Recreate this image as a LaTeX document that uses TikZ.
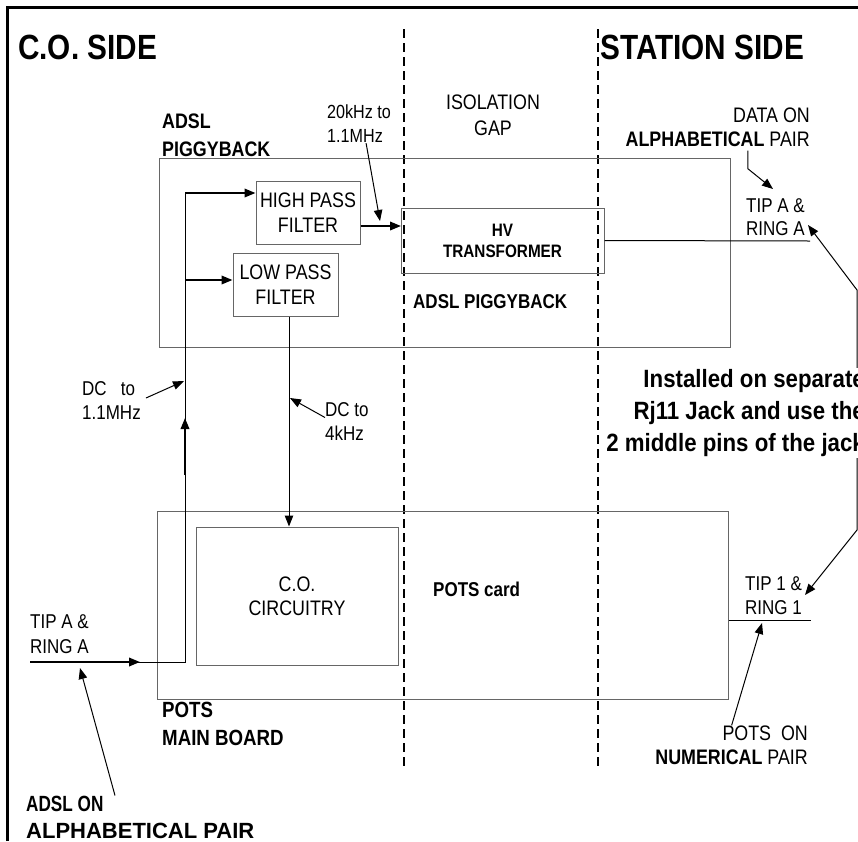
\documentclass[tikz,border=0pt]{standalone}
\usepackage{fontspec}
\usepackage{graphicx}
\setmainfont{Liberation Sans}[FakeStretch=0.85]
\newfontfamily\jackfont{Liberation Sans}[FakeStretch=0.89]
\newfontfamily\widefont{Liberation Sans}
\usetikzlibrary{arrows.meta,positioning}
\newcommand{\fs}[2]{\fontsize{#1}{#2}\selectfont}

\begin{document}
\begin{tikzpicture}[x=1pt,y=-1pt,>={Triangle[length=11pt,width=8.5pt]},
  box/.style={draw=black!60,line width=1pt,inner sep=0pt},
  lbl/.style={font=\fs{20}{24},inner sep=0pt,align=left},
  blbl/.style={font=\fs{21}{28}\bfseries,inner sep=0pt,align=left},
  wire/.style={line width=1pt},
  sig/.style={line width=2pt,->},
  note/.style={line width=1pt,->}]
  \useasboundingbox (0,0) rectangle (858,841);
  \clip (0,0) rectangle (858,841);
  \draw[line width=3pt] (7,841) -- (7,7) -- (858,7);
  \foreach \x in {404,598}
    \draw[line width=2pt,dash pattern=on 9pt off 5pt] (\x,29) -- (\x,770);

  \node[font=\fs{35}{40}\bfseries,inner sep=0pt,anchor=west] (coside) at (18,47.5) {C.O. SIDE};
  \node[font=\fs{35}{40}\bfseries,inner sep=0pt,anchor=west] (stside) at (600,47.5) {STATION SIDE};

  \node[box,minimum width=571pt,minimum height=189pt] (piggy) at (444.5,252.5) {};
  \node[box,minimum width=571pt,minimum height=188pt] (pots) at (442.5,605) {};
  \node[box,lbl,align=center,font=\fs{21}{25},minimum width=104pt,minimum height=63pt] (hpf) at (308,212.5) {HIGH PASS\\FILTER};
  \node[box,lbl,align=center,font=\fs{21}{25},minimum width=105pt,minimum height=63pt] (lpf) at (285.5,284.5) {LOW PASS\\FILTER};
  \node[box,lbl,align=center,font=\fs{18}{21}\bfseries,minimum width=203pt,minimum height=65pt] (hvt) at (502.5,240.5) {HV\\TRANSFORMER};
  \node[box,lbl,align=center,font=\fs{21}{24},minimum width=202pt,minimum height=138pt] (coc) at (297,596) {C.O.\\CIRCUITRY};

  \node[blbl,anchor=west] (pbk) at (162,135) {ADSL\\PIGGYBACK};
  \node[blbl,anchor=west,font=\fs{20}{24}\bfseries] (pbk2) at (413,302) {ADSL PIGGYBACK};
  \node[lbl,align=center,font=\fs{21}{26}] (gap) at (493,115) {ISOLATION\\GAP};
  \node[lbl,anchor=west,font=\fs{19}{24}] (f20) at (327,124) {20kHz to\\1.1MHz};
  \node[lbl,align=right,anchor=east,font=\fs{21}{24}] (dataA) at (810,127) {DATA ON\\\textbf{ALPHABETICAL} PAIR};
  \node[lbl,anchor=west,font=\fs{20}{23}] (tipA) at (746,217.5) {TIP A \&\\RING A};
  \node[lbl,anchor=west] (dc11) at (82,401) {DC\ \ \ to\\1.1MHz};
  \node[lbl,anchor=west] (dc4) at (325,421.5) {DC to\\4kHz};
  \node[blbl,anchor=west,font=\fs{20}{24}\bfseries] (card) at (433,589) {POTS card};
  \node[lbl,anchor=west,font=\fs{20}{25}] (tipAin) at (30,634.5) {TIP A \&\\RING A};
  \node[blbl,anchor=west,font=\fs{22}{28}\bfseries] (main) at (162,724) {POTS\\MAIN BOARD};
  \node[blbl,anchor=west,font=\widefont\fs{22}{27}\bfseries] (adslon) at (26,817) {\scalebox{0.78}[1]{ADSL ON}\\ALPHABETICAL PAIR};
  \node[lbl,anchor=west,font=\fs{20}{24}] (tip1) at (745,596) {TIP 1 \&\\RING 1};
  \node[lbl,align=right,anchor=east,font=\fs{21}{24}] (potson) at (808,745) {POTS\ \ ON\\\textbf{NUMERICAL} PAIR};

  \coordinate (inA) at (30,662);
  \coordinate (bend) at (185,662);
  \coordinate (tapH) at (185,193);
  \coordinate (tapL) at (185,280);
  \coordinate (upA) at (185,475);
  \coordinate (upB) at (185,418);
  \coordinate (hvtin) at (401,226);
  \coordinate (outA) at (810,241);
  \coordinate (out1) at (811,620);
  \coordinate (jackA) at (808,225);
  \coordinate (jack1) at (805,595);
  \draw[wire] (inA) -- (bend) -- (tapH);
  \draw[sig] (inA) -- ++(110,0);
  \draw[sig] (upA) -- (upB);
  \draw[sig] (tapH) -- (tapH -| hpf.west);
  \draw[sig] (tapL) -- (tapL -| lpf.west);
  \draw[sig] (hpf.east |- hvtin) -- (hvtin);
  \draw[wire,->] ([xshift=3.5pt]lpf.south) -- ([xshift=3.5pt]lpf.south |- coc.north);
  \draw[wire] (hvt.east) -- (outA);
  \draw[wire] (pots.east |- out1) -- (out1);
  \draw[wire,<->] (jackA) -- (857,290) -- (857,530) -- (jack1);

  \coordinate (k20) at (380,221);
  \coordinate (kdA) at (773,189);
  \coordinate (k11) at (184,381);
  \coordinate (k4) at (290,398);
  \coordinate (kin) at (80,668);
  \coordinate (k1) at (762,623);
  \draw[note] ([xshift=7pt]f20.south) -- (k20);
  \draw[note] ([xshift=30pt]dataA.south) ++(0,4) -- ++(0,18) -- (kdA);
  \draw[note] ([xshift=5pt,yshift=3pt]dc11.east) -- (k11);
  \draw[note] ([yshift=4pt]dc4.west) -- (k4);
  \draw[note] ([xshift=89pt]adslon.north west) -- (kin);
  \draw[note] (potson.north) -- (k1);

  \node[lbl,align=right,anchor=east,fill=white,font=\jackfont\fs{25}{32}\bfseries,inner sep=1pt] (jack) at (866,413) {Installed on separate\\Rj11 Jack and use the\\2 middle pins of the jack};
\end{tikzpicture}
\end{document}
